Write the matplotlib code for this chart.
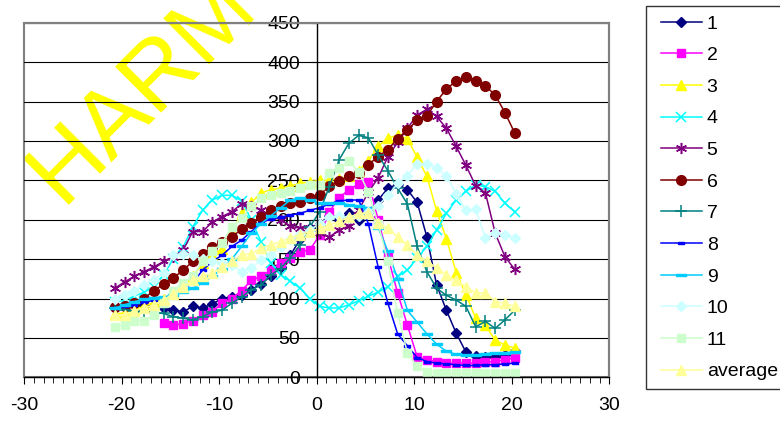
import matplotlib
matplotlib.use("Agg")
import matplotlib.pyplot as plt
from matplotlib.patches import Rectangle
from matplotlib.ticker import MultipleLocator

plt.rcParams['font.family'] = ['Liberation Sans', 'DejaVu Sans']
plt.rcParams['axes.unicode_minus'] = False

# x positions of the samples
X = [-20.7, -19.7, -18.7, -17.7, -16.7, -15.7, -14.7, -13.7, -12.7, -11.7,
     -10.7, -9.7, -8.7, -7.7, -6.7, -5.7, -4.7, -3.7, -2.7, -1.7,
     -0.7, 0.3, 1.3, 2.3, 3.3, 4.3, 5.3, 6.3, 7.3, 8.3,
     9.3, 10.3, 11.3, 12.3, 13.3, 14.3, 15.3, 16.3, 17.3, 18.3,
     19.3, 20.3]

s1 = [88, 90, 92, 92, 90, 88, 85, 83, 90, 88, 93, 100, 102, 104, 111, 119, 128, 140, 155, 175,
      190, 195, 205, 200, 208, 200, 210, 225, 240, 245, 238, 222, 178, 117, 85, 56, 32, 27, 26, 26,
      28, 33]
# series 2 starts at the 6th x position
s2 = [69, 66, 68, 72, 79, 83, 94, 100, 110, 123, 128, 136, 145, 151, 159, 162, 180, 210, 228, 238,
      245, 248, 200, 153, 107, 66, 26, 22, 20, 18, 18, 18, 18, 19, 20, 22, 25]
s3 = [80, 82, 86, 90, 95, 100, 107, 115, 128, 145, 155, 163, 185, 208, 222, 234, 238, 240, 243, 246,
      248, 250, 250, 252, 255, 262, 275, 293, 304, 307, 303, 279, 255, 211, 176, 133, 105, 75, 66, 47,
      41, 37]
s4 = [95, 98, 103, 108, 115, 130, 150, 165, 191, 212, 225, 231, 231, 224, 200, 172, 145, 130, 122, 113,
      100, 90, 88, 88, 92, 97, 103, 108, 115, 128, 136, 151, 166, 187, 208, 225, 236, 244, 242, 236,
      221, 210]
s5 = [113, 121, 128, 134, 140, 147, 153, 161, 185, 185, 197, 204, 210, 220, 218, 212, 205, 200, 192, 189,
      190, 183, 178, 187, 192, 212, 235, 253, 280, 298, 316, 333, 340, 331, 316, 293, 269, 243, 234, 183,
      153, 137]
s6 = [89, 90, 94, 100, 110, 118, 126, 136, 147, 156, 165, 172, 178, 188, 196, 204, 212, 218, 221, 223,
      227, 231, 243, 249, 255, 259, 270, 280, 289, 303, 314, 326, 332, 350, 366, 376, 381, 376, 370, 358,
      336, 310]
s7 = [88, 86, 84, 83, 82, 81, 77, 75, 73, 77, 83, 85, 94, 102, 111, 117, 130, 138, 152, 168,
      191, 210, 242, 276, 297, 307, 304, 282, 262, 240, 220, 166, 134, 113, 104, 98, 90, 64, 71, 62,
      73, 85]
s8 = [88, 90, 92, 95, 98, 100, 105, 111, 120, 136, 147, 155, 166, 174, 185, 196, 201, 203, 206, 208,
      212, 215, 220, 224, 225, 225, 195, 140, 94, 55, 40, 25, 20, 18, 17, 16, 15, 15, 16, 16,
      17, 18]
s9 = [88, 92, 96, 99, 101, 102, 104, 108, 113, 120, 128, 138, 150, 166, 183, 195, 205, 215, 225, 227,
      225, 221, 221, 221, 219, 217, 215, 190, 160, 125, 85, 70, 55, 42, 33, 29, 28, 28, 30, 31,
      31, 32]
s10 = [100, 105, 110, 117, 124, 132, 155, 157, 155, 150, 147, 145, 143, 134, 139, 149, 155, 165, 175, 182,
       187, 195, 203, 205, 202, 205, 210, 218, 231, 246, 256, 271, 271, 265, 256, 233, 212, 213, 177, 183,
       180, 177]
s11 = [64, 66, 71, 71, 79, 94, 110, 120, 128, 147, 160, 170, 191, 202, 217, 228, 231, 234, 236, 240,
       244, 244, 259, 265, 274, 261, 235, 195, 147, 81, 31, 14, 7, 6, 5, 5, 5, 5, 5, 5,
       5, 5]
avg = [79, 79, 84, 88, 92, 98, 106, 115, 123, 128, 132, 140, 147, 155, 157, 164, 168, 172, 177, 181,
       185, 189, 193, 198, 203, 208, 208, 196, 189, 178, 168, 155, 147, 139, 130, 123, 115, 107, 107, 96,
       94, 90]

labels = ['1', '2', '3', '4', '5', '6', '7', '8', '9', '10', '11', 'average']

dash_s = [(-1, -0.45), (1, -0.45), (1, 0.45), (-1, 0.45), (-1, -0.45)]
dash_l = [(-1, -0.3), (1, -0.3), (1, 0.3), (-1, 0.3), (-1, -0.3)]

styles = [
    dict(color='#000080', marker='D', ms=5),
    dict(color='#FF00FF', marker='s', ms=6),
    dict(color='#FFFF00', marker='^', ms=7),
    dict(color='#00FFFF', marker='x', ms=7, mew=1.1),
    dict(color='#800080', marker=(6, 2, 0), ms=8, mew=1.1),
    dict(color='#800000', marker='o', ms=7),
    dict(color='#008080', marker='+', ms=8, mew=1.1),
    dict(color='#0000FF', marker=dash_s, ms=4),
    dict(color='#00CCFF', marker=dash_l, ms=7),
    dict(color='#CCFFFF', marker='D', ms=5),
    dict(color='#CCFFCC', marker='s', ms=6),
    dict(color='#FFFF99', marker='^', ms=7),
]

series = [s1, s2, s3, s4, s5, s6, s7, s8, s9, s10, s11, avg]

fig = plt.figure(figsize=(7.8, 4.22), dpi=100)
fig.patch.set_facecolor('white')

# watermark, behind the chart
fig.text(0.078, 0.514, 'HARM', color='#FFFF00', fontsize=68, rotation=45,
         rotation_mode='anchor', ha='left', va='baseline', zorder=-1)

ax = fig.add_axes([0.0308, 0.1059, 0.7504, 0.8403])
ax.patch.set_alpha(0)

for i, (ys, st) in enumerate(zip(series, styles)):
    xs = X if len(ys) == len(X) else X[len(X) - len(ys):]
    ax.plot(xs, ys, lw=1.1, mec=st['color'], mfc=st['color'], label=labels[i],
            zorder=2 + i * 0.01, **st)

ax.set_xlim(-30, 30)
ax.set_ylim(0, 450)
ax.xaxis.set_major_locator(MultipleLocator(10))
ax.xaxis.set_minor_locator(MultipleLocator(1))
ax.yaxis.set_major_locator(MultipleLocator(50))

ax.grid(axis='y', color='black', lw=0.8)
ax.set_axisbelow(True)

ax.spines['left'].set_position(('data', 0))
ax.spines['left'].set_color('black')
ax.spines['bottom'].set_color('black')
ax.spines['top'].set_color('#808080')
ax.spines['right'].set_color('#808080')
for s in ax.spines.values():
    s.set_linewidth(1.0)
ax.spines['top'].set_linewidth(1.5)
ax.spines['right'].set_linewidth(1.5)
ax.add_patch(Rectangle((0, 0), 1, 1, transform=ax.transAxes, fill=False,
                       ec='#808080', lw=1.5, clip_on=False, zorder=0.5))

ax.tick_params(axis='both', which='major', labelsize=14, direction='out', color='black')
ax.tick_params(axis='x', which='major', length=5, pad=9)
ax.tick_params(axis='x', which='minor', length=4)
ax.tick_params(axis='y', which='major', length=4, pad=8)

# legend box drawn by hand so its size matches
fig.patches.append(Rectangle((646 / 780, 1 - 389 / 422), 140 / 780, 383 / 422,
                             transform=fig.transFigure, fill=True, fc='white',
                             ec='#333333', lw=1.0, zorder=1))
fig.legend(loc='upper left', bbox_to_anchor=(661 / 780, 1 - 15 / 422), fontsize=14,
           frameon=False, handlelength=2.1, handletextpad=0.25, labelspacing=0.72,
           borderpad=0, borderaxespad=0)

fig.savefig('out.png', dpi=100)
